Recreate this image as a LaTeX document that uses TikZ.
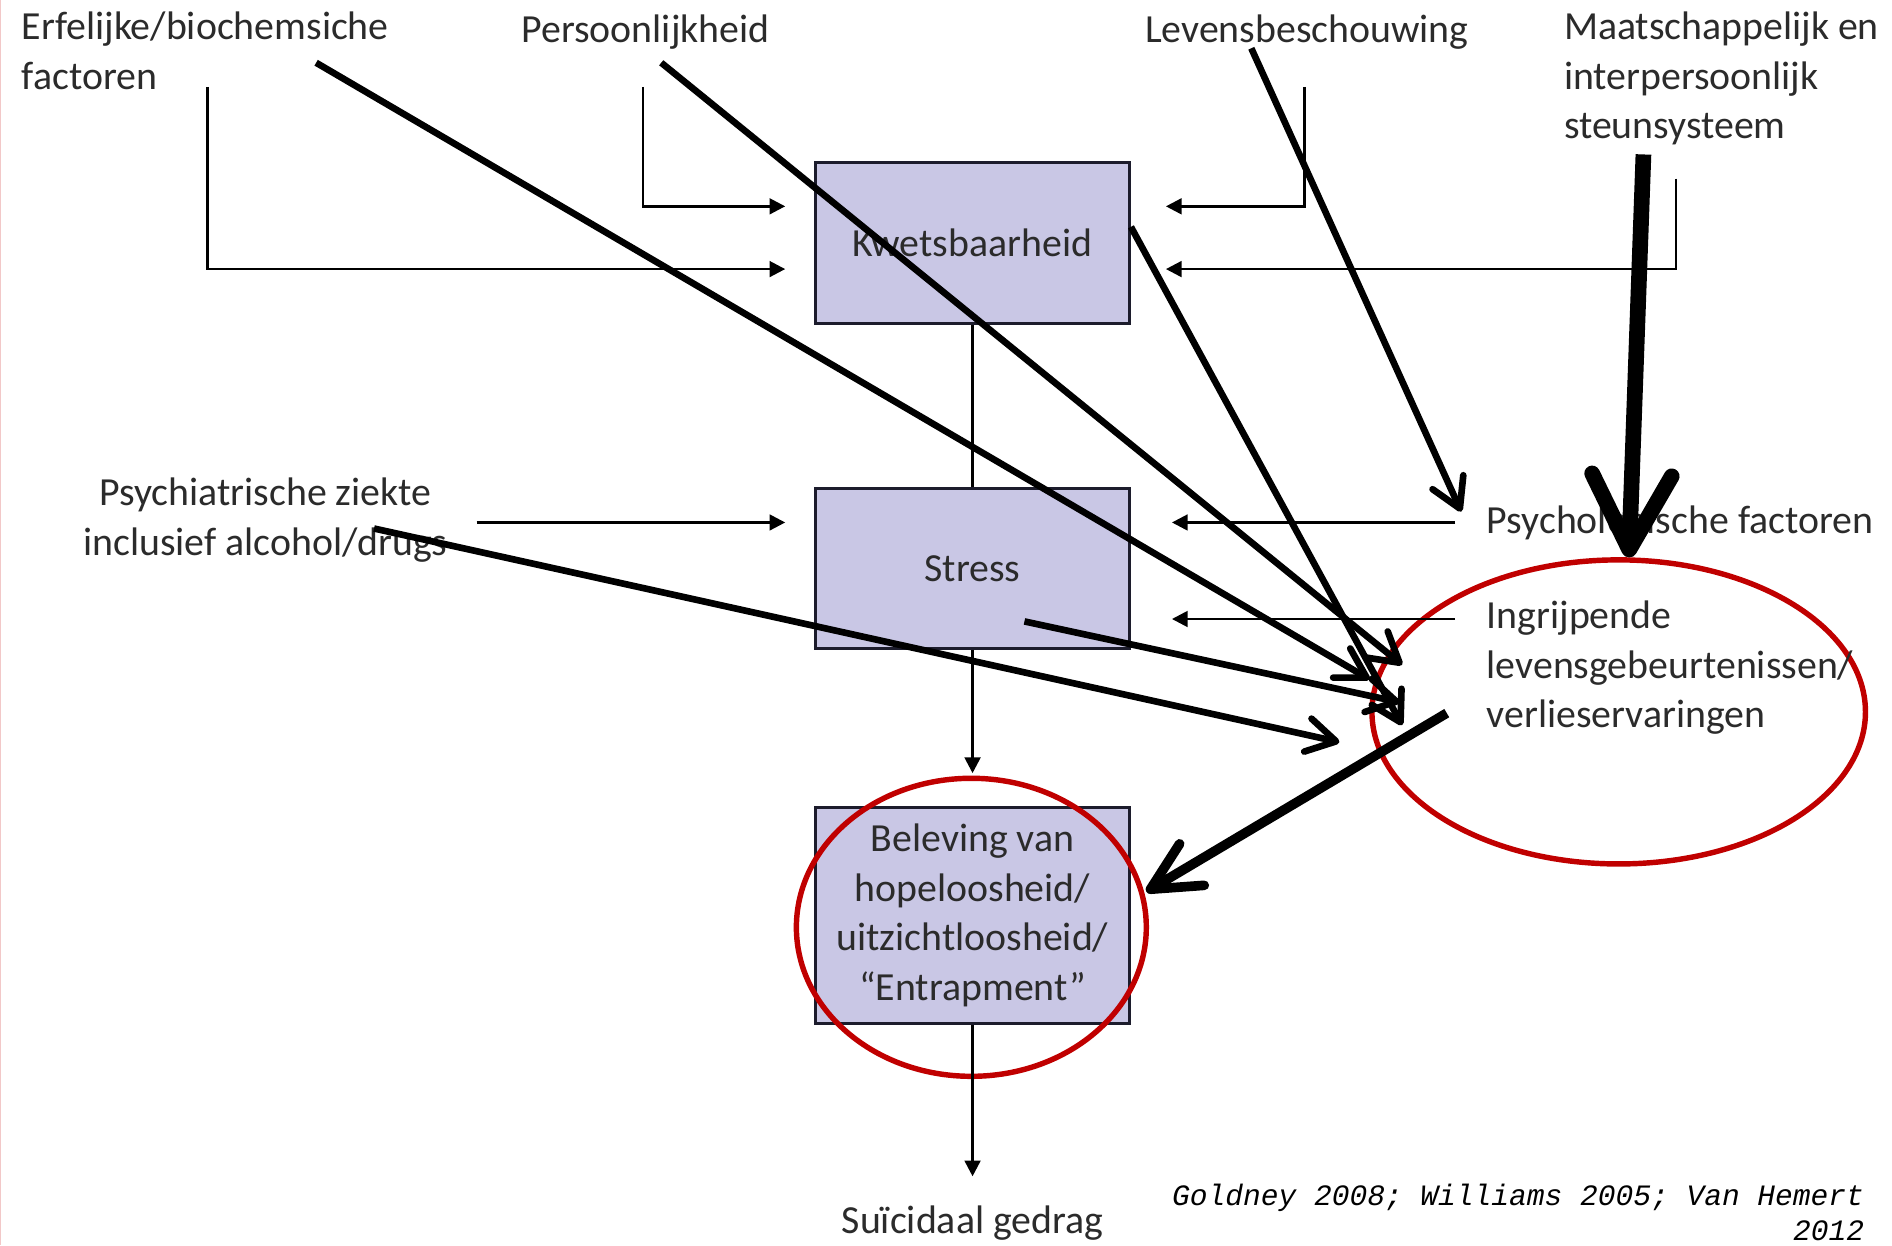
\documentclass[tikz,border=0pt]{standalone}
\usepackage{fontspec}
\setmainfont{Carlito}
\setmonofont{Liberation Mono}
\usetikzlibrary{arrows.meta, positioning, calc, shapes.geometric}

\definecolor{boxfill}{HTML}{C9C7E5}
\definecolor{boxline}{HTML}{1C1C2C}
\definecolor{ringred}{HTML}{C00000}
\definecolor{txtgray}{HTML}{2B2B2B}
\definecolor{edgepink}{HTML}{F2C8C8}

\tikzset{
  factor/.style={font=\fontsize{33}{41}\selectfont, text=txtgray, inner sep=0pt},
  stage/.style={draw=boxline, fill=boxfill, line width=2.5pt,
                minimum width=260pt, inner sep=0pt, align=center,
                font=\fontsize{33}{41}\selectfont, text=txtgray},
  feed/.style={line width=2.2pt, -{Triangle[length=13pt,width=13pt]}},
  stroke/.style={line width=5.5pt, -{Straight Barb[length=24pt,width=28pt,round]}},
  ring/.style={ellipse, draw=ringred, line width=4.5pt, inner sep=0pt},
}

\begin{document}
\begin{tikzpicture}[x=1pt,y=-1pt]
\useasboundingbox (0,0) rectangle (1568,1032);
\draw[edgepink, line width=1pt] (0.5,0) -- (0.5,1032);

% de drie blokken
\node[stage, minimum height=133pt] (kwets) at (806,201.5) {Kwetsbaarheid};
\node[stage, minimum height=133pt, below=134pt of kwets] (stress) {Stress};
\node[stage, minimum height=179pt, below=129pt of stress] (bel)
  {Beleving van\\hopeloosheid/\\uitzichtloosheid/\\“Entrapment”};

% rode cirkels
\node[ring, minimum width=409pt, minimum height=252pt] (lifeRing) at (1341.5,590) {};
\node[ring, minimum width=290pt, minimum height=247pt] (belRing) at (805,768.5) {};

% factoren
\node[factor, align=left, anchor=north west] (erf) at (18,10)
  {Erfelijke/biochemsiche\\factoren};
\node[factor, anchor=base] (pers) at (535,35) {Persoonlijkheid};
\node[factor, anchor=base] (levens) at (1083,35) {Levensbeschouwing};
\node[factor, align=left, anchor=north west] (maats) at (1296,10)
  {Maatschappelijk en\\interpersoonlijk\\steunsysteem};
\node[factor, align=center, anchor=north] (psychiat) at (220,396)
  {Psychiatrische ziekte\\inclusief alcohol/drugs};
\node[factor, anchor=base west] (psychol) at (1232,442) {Psychologische factoren};
\node[factor, align=left, anchor=north west] (ingr) at (1232,498)
  {Ingrijpende\\levensgebeurtenissen/\\verlieservaringen};
\node[factor, anchor=base] (sui) at (806,1022) {Suïcidaal gedrag};
\node[font=\fontsize{24.5}{29}\selectfont\ttfamily\itshape, align=right,
      anchor=north east, inner sep=0pt] (bron) at (1545,981)
  {Goldney 2008; Williams 2005; Van Hemert\\2012};

% dunne pijlen
\coordinate (erfFoot) at (172,72);
\coordinate (persFoot) at (533,72);
\coordinate (levFoot) at (1081,72);
\coordinate (maatsFoot) at (1389,148);
\coordinate (psychiatFoot) at (395,433);
\coordinate (psycholFoot) at (1206,433);
\coordinate (ingrFoot) at (1206,513);

\draw[feed, shorten >=24pt] (erfFoot) |- ($(kwets.west)+(0,21.5)$);
\draw[feed, shorten >=24pt] (persFoot) |- ($(kwets.west)+(0,-30.5)$);
\draw[feed, shorten >=29pt] (levFoot) |- ($(kwets.east)+(0,-30.5)$);
\draw[feed, shorten >=29pt] (maatsFoot) |- ($(kwets.east)+(0,21.5)$);
\draw[feed, shorten >=24pt] (psychiatFoot) -- (psychiatFoot -| stress.west);
\draw[feed, shorten >=34pt] (psycholFoot) -- (psycholFoot -| stress.east);
\draw[feed, shorten >=34pt] (ingrFoot) -- (ingrFoot -| stress.east);
\draw[line width=2.2pt] (kwets) -- (stress);
\draw[feed, shorten >=27pt] (stress) -- (bel);
\draw[feed, shorten >=24pt] (bel) -- (sui);

% dikke pijlen
\coordinate (erfTail) at (262,52);
\coordinate (erfTip) at (1135,563);
\coordinate (persTail) at (548,52);
\coordinate (persTip) at (1162,551);
\coordinate (kwetsTip) at (1162,601);
\coordinate (levTail) at (1037,40);
\coordinate (levTip) at (1211,424);
\coordinate (stressTail) at (849,515);
\coordinate (stressTip) at (1160,582);
\coordinate (psychiatTail) at (310,438);
\coordinate (psychiatTip) at (1110,615);
\coordinate (maatsTail) at (1362,128);
\coordinate (maatsTip) at (1350,462);
\coordinate (ingrTail) at (1199,591);
\coordinate (belTip) at (950,739);

\draw[stroke] (erfTail) -- (erfTip);
\draw[stroke] (persTail) -- (persTip);
\draw[stroke] ($(kwets.east)+(0,-13.5)$) -- (kwetsTip);
\draw[stroke] (levTail) -- (levTip);
\draw[stroke] (stressTail) -- (stressTip);
\draw[stroke] (psychiatTail) -- (psychiatTip);
\draw[line width=13pt, -{Straight Barb[length=62pt,width=66pt,round]}] (maatsTail) -- (maatsTip);
\draw[line width=8pt, -{Straight Barb[length=40pt,width=40pt,round]}] (ingrTail) -- (belTip);
\end{tikzpicture}
\end{document}
